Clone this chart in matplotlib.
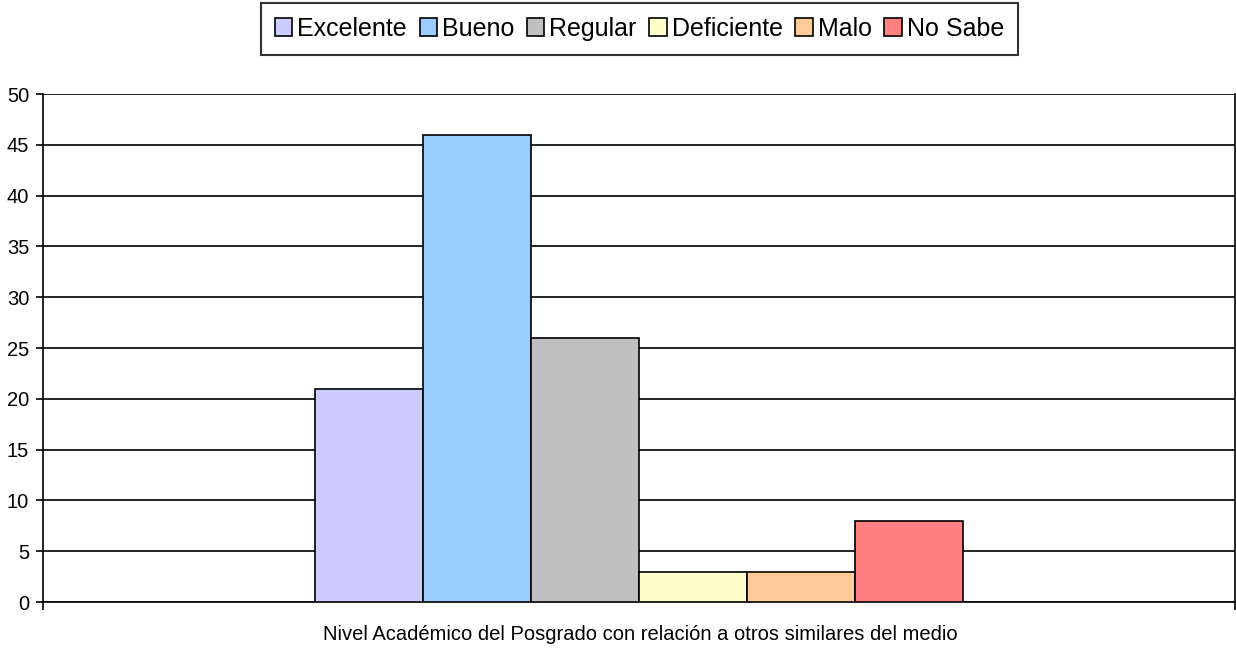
import matplotlib
matplotlib.use("Agg")
import matplotlib.pyplot as plt
from matplotlib.patches import Patch

plt.rcParams['font.family'] = ['Liberation Sans', 'DejaVu Sans']

categories = ["Excelente", "Bueno", "Regular", "Deficiente", "Malo", "No Sabe"]
values = [21, 46, 26, 3, 3, 8]
colors = ["#CCCCFF", "#99CCFF", "#C0C0C0", "#FFFFCC", "#FFCC99", "#FF8080"]
xlabel = "Nivel Académico del Posgrado con relación a otros similares del medio"
yticks = [0, 5, 10, 15, 20, 25, 30, 35, 40, 45, 50]

fig = plt.figure(figsize=(12.36, 6.5), dpi=100)
ax = fig.add_axes([43/1236, 1 - 602/650, (1235 - 43)/1236, (602 - 94)/650])

n = len(categories)
bw = 108 / 1192
offsets = [(i - (n - 1) / 2) * bw for i in range(n)]
for off, v, c in zip(offsets, values, colors):
    ax.bar(off, v, width=bw, color=c, edgecolor="black", linewidth=1.2, zorder=3)

ax.set_xlim(-0.5, 0.5)
ax.set_ylim(0, 50)
ax.set_yticks(yticks)
ax.set_yticklabels([str(t) for t in yticks], fontsize=14.5)
ax.yaxis.grid(True, color="black", linewidth=1.2, zorder=0)
ax.set_axisbelow(True)
ax.set_xticks([-0.5, 0.5])
ax.set_xticklabels(["", ""])
ax.tick_params(axis="y", length=5, width=1.2, pad=5)
ax.tick_params(axis="x", length=6, width=1.2)
for s in ["left", "bottom", "right"]:
    ax.spines[s].set_linewidth(1.2)
ax.spines["top"].set_visible(False)
fig.text(640/1236, 1 - 634/650, xlabel, fontsize=14.5, ha="center", va="center")

handles = [Patch(facecolor=c, edgecolor="black", linewidth=1.2) for c in colors]
leg = fig.legend(handles, categories, loc="upper center", bbox_to_anchor=(639.5/1236, 1 - 3/650),
                 ncol=n, fontsize=18, frameon=True, fancybox=False, edgecolor="black",
                 handlelength=0.7, handleheight=0.7, handletextpad=0.2, columnspacing=0.5,
                 borderpad=0.55, borderaxespad=0)
leg.get_frame().set_linewidth(1.5)

fig.savefig("out.png", dpi=100)
